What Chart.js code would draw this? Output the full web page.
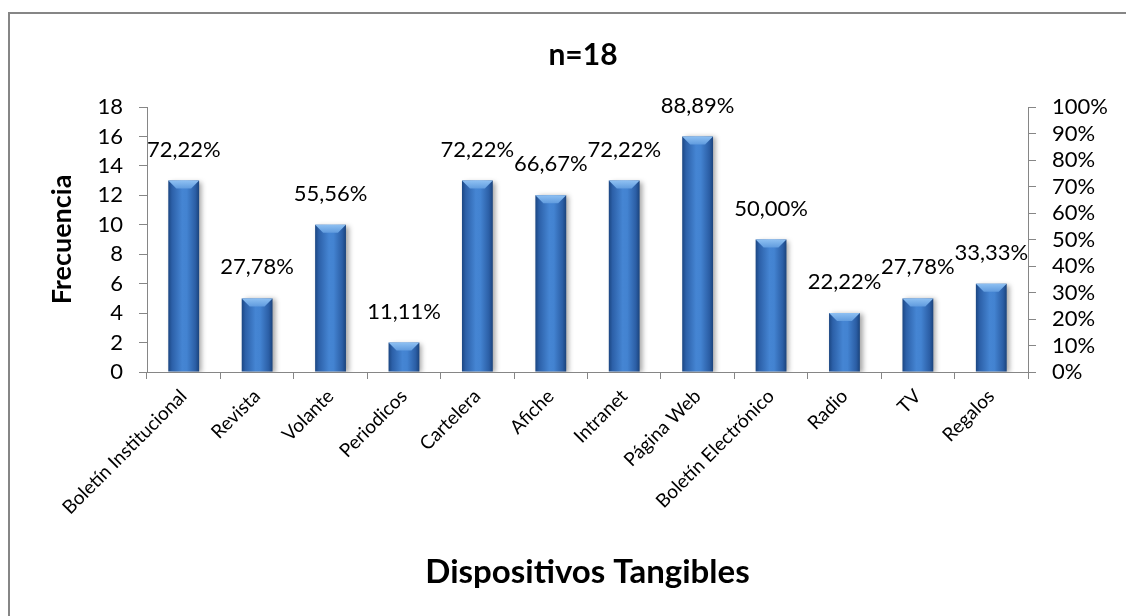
<!DOCTYPE html>
<html lang="es">
<head>
<meta charset="utf-8">
<title>Dispositivos Tangibles</title>
<script src="https://cdn.jsdelivr.net/npm/chart.js@4.4.1/dist/chart.umd.min.js"></script>
<style>
  html, body { margin: 0; padding: 0; background: #fff; }
  #wrap { width: 1126px; height: 616px; }
</style>
</head>
<body>
<div id="wrap"><canvas id="devicesChart" width="1126" height="616"></canvas></div>
<script>
const categories = ['Boletín Institucional', 'Revista', 'Volante', 'Periodicos', 'Cartelera', 'Afiche',
    'Intranet', 'Página Web', 'Boletín Electrónico', 'Radio', 'TV', 'Regalos'];
const frequencies = [13, 5, 10, 2, 13, 12, 13, 16, 9, 4, 5, 6];
const shareLabels = ['72,22%', '27,78%', '55,56%', '11,11%', '72,22%', '66,67%',
    '72,22%', '88,89%', '50,00%', '22,22%', '27,78%', '33,33%'];
const countTicks = [0, 2, 4, 6, 8, 10, 12, 14, 16, 18];
const shareTicks = [0, 0.1, 0.2, 0.3, 0.4, 0.5, 0.6, 0.7, 0.8, 0.9, 1];

const FONT = 'Lato, "Open Sans", sans-serif';
const AXIS_GREY = '#868686';
const BAR_SHARE = 0.42;

// outer frame of the chart object (only top and left edges fall inside the image)
const framePlugin = {
    id: 'frame',
    beforeDraw(chart) {
        const c = chart.ctx;
        c.save();
        c.fillStyle = '#fff';
        c.fillRect(0, 0, chart.width, chart.height);
        c.strokeStyle = AXIS_GREY;
        c.lineWidth = 2;
        c.strokeRect(9, 13, chart.width + 20, chart.height + 20);
        c.restore();
    }
};

// soft drop shadow behind the columns
const shadowPlugin = {
    id: 'columnShadow',
    beforeDatasetDraw(chart) {
        const c = chart.ctx;
        c.save();
        c.shadowColor = 'rgba(0,0,0,0.35)';
        c.shadowBlur = 5;
        c.shadowOffsetX = 3;
        c.shadowOffsetY = 1;
    },
    afterDatasetDraw(chart) {
        chart.ctx.restore();
    }
};

// bevelled top of each column plus the percentage label above it
const bevelAndLabels = {
    id: 'bevelAndLabels',
    afterDatasetsDraw(chart) {
        const c = chart.ctx;
        const bars = chart.getDatasetMeta(0).data;
        bars.forEach((bar, i) => {
            const half = bar.width / 2;
            const left = bar.x - half, right = bar.x + half, top = bar.y;
            const g = c.createLinearGradient(0, top, 0, top + 9);
            g.addColorStop(0, '#8ec0f2');
            g.addColorStop(1, '#5b97dc');
            c.save();
            c.beginPath();
            c.moveTo(left, top);
            c.lineTo(right, top);
            c.lineTo(right - 8, top + 8);
            c.lineTo(left + 8, top + 8);
            c.closePath();
            c.fillStyle = g;
            c.fill();
            c.restore();

            c.save();
            c.font = '22px ' + FONT;
            c.fillStyle = '#000';
            c.textAlign = 'center';
            c.textBaseline = 'middle';
            c.fillText(shareLabels[i], bar.x, bar.y - 31);
            c.restore();
        });
    }
};

const columnFill = (ctx) => {
    const chart = ctx.chart;
    const xScale = chart.scales.x;
    if (!xScale || !chart.chartArea) {
        return '#3a72bd';
    }
    const cx = xScale.getPixelForValue(ctx.dataIndex);
    const half = (xScale.width / categories.length) * BAR_SHARE / 2;
    const g = chart.ctx.createLinearGradient(cx - half, 0, cx + half, 0);
    g.addColorStop(0, '#1b4682');
    g.addColorStop(0.12, '#2c60a8');
    g.addColorStop(0.45, '#4585d3');
    g.addColorStop(0.6, '#4383d1');
    g.addColorStop(0.88, '#2b5ea5');
    g.addColorStop(1, '#1a437c');
    return g;
};

const tickFont = { family: FONT, size: 22 };

new Chart(document.getElementById('devicesChart'), {
    type: 'bar',
    data: {
        labels: categories,
        datasets: [{
            label: 'Frecuencia',
            data: frequencies,
            backgroundColor: columnFill,
            borderWidth: 0,
            barPercentage: 1,
            categoryPercentage: BAR_SHARE,
            yAxisID: 'y'
        }]
    },
    options: {
        responsive: false,
        animation: false,
        layout: { padding: { left: 40, top: 12, right: 0, bottom: 0 } },
        plugins: {
            legend: { display: false },
            tooltip: { enabled: false },
            title: {
                display: true,
                text: 'n=18',
                color: '#000',
                font: { family: FONT, size: 30, weight: 'bold' },
                padding: { top: 25, bottom: 34 }
            }
        },
        scales: {
            x: {
                grid: { offset: true, drawOnChartArea: false, tickLength: 7, color: AXIS_GREY },
                border: { color: AXIS_GREY },
                ticks: {
                    autoSkip: false,
                    minRotation: 45,
                    maxRotation: 45,
                    padding: 6,
                    color: '#000',
                    font: { family: FONT, size: 19 }
                },
                title: {
                    display: true,
                    text: 'Dispositivos Tangibles',
                    color: '#000',
                    font: { family: FONT, size: 33, weight: 'bold' },
                    padding: { top: 0, bottom: 24 }
                },
                afterFit(scale) { scale.height = 244; }
            },
            y: {
                position: 'left',
                min: 0,
                max: 18,
                grid: { drawOnChartArea: false, tickLength: 8, color: AXIS_GREY },
                border: { color: AXIS_GREY },
                afterBuildTicks(scale) { scale.ticks = countTicks.map(v => ({ value: v })); },
                ticks: { autoSkip: false, padding: 16, color: '#000', font: tickFont },
                title: {
                    display: true,
                    text: 'Frecuencia',
                    color: '#000',
                    font: { family: FONT, size: 27, weight: 'bold' },
                    padding: { top: 6, bottom: 0 }
                },
                afterFit(scale) { scale.width = 107; }
            },
            y1: {
                position: 'right',
                min: 0,
                max: 1,
                grid: { drawOnChartArea: false, tickLength: 8, color: AXIS_GREY },
                border: { color: AXIS_GREY },
                afterBuildTicks(scale) { scale.ticks = shareTicks.map(v => ({ value: v })); },
                ticks: {
                    autoSkip: false,
                    padding: 16,
                    color: '#000',
                    font: tickFont,
                    callback: v => Math.round(v * 100) + '%'
                },
                afterFit(scale) { scale.width = 98; }
            }
        }
    },
    plugins: [framePlugin, shadowPlugin, bevelAndLabels]
});
</script>
</body>
</html>
